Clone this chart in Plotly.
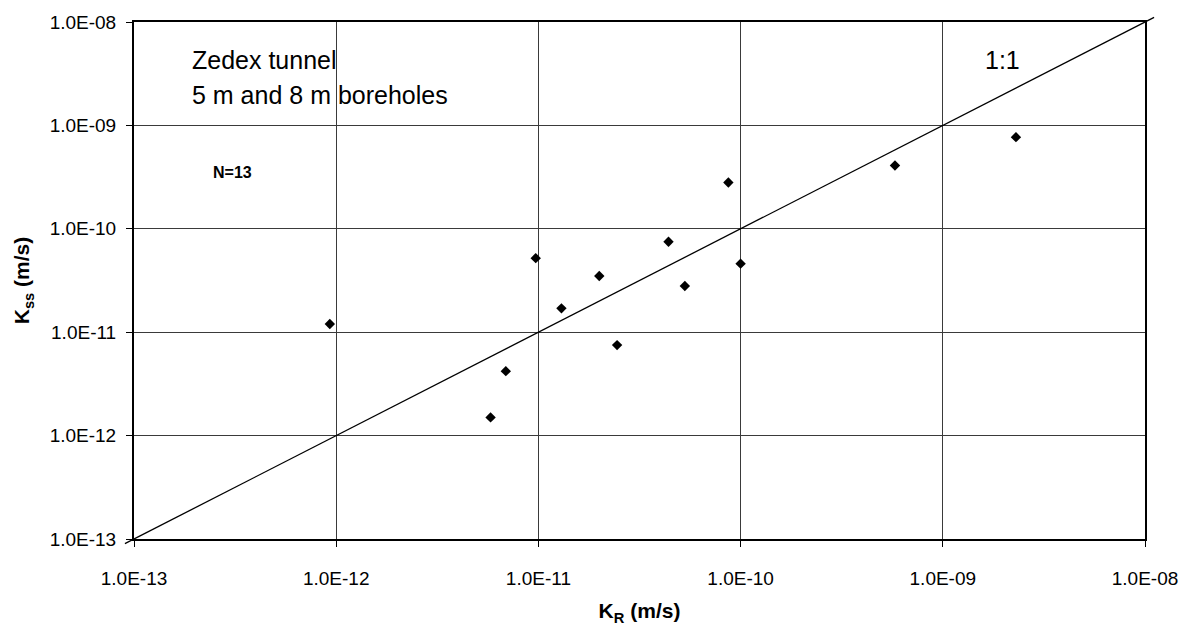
import math
import plotly.graph_objects as go

# ---- data ----
k_r = [9.3e-13, 5.8e-12, 6.9e-12, 9.7e-12, 1.3e-11, 2.0e-11, 2.45e-11,
       4.4e-11, 5.3e-11, 8.7e-11, 1.0e-10, 5.8e-10, 2.3e-09]
k_ss = [1.2e-11, 1.5e-12, 4.2e-12, 5.2e-11, 1.7e-11, 3.5e-11, 7.5e-12,
        7.5e-11, 2.8e-11, 2.8e-10, 4.6e-11, 4.1e-10, 7.7e-10]
tick_vals = [1e-13, 1e-12, 1e-11, 1e-10, 1e-9, 1e-8]
tick_text = ["1.0E-13", "1.0E-12", "1.0E-11", "1.0E-10", "1.0E-09", "1.0E-08"]
one_to_one = [1e-13, 1e-8]
title_lines = ["Zedex tunnel", "5 m and 8 m boreholes"]
n_label = "N=13"
ratio_label = "1:1"

FONT = "Liberation Sans, Arial, sans-serif"
x_range = [math.log10(tick_vals[0]), math.log10(tick_vals[-1])]
y_range = [math.log10(tick_vals[0]), math.log10(tick_vals[-1])]

fig = go.Figure()
fig.add_trace(go.Scatter(
    x=k_r, y=k_ss, mode="markers",
    marker=dict(symbol="diamond", size=8, color="black"),
    showlegend=False,
))

# 1:1 line, slightly overhanging the plot frame (as in the original)
over = 0.009
def to_paper(v, rng):
    return (math.log10(v) - rng[0]) / (rng[1] - rng[0])
fig.add_shape(type="line", xref="paper", yref="paper",
              x0=to_paper(one_to_one[0], x_range) - over,
              y0=to_paper(one_to_one[0], y_range) - over,
              x1=to_paper(one_to_one[1], x_range) + over,
              y1=to_paper(one_to_one[1], y_range) + over,
              line=dict(color="black", width=1.3), layer="above")

axis_common = dict(
    type="log", tickvals=tick_vals, ticktext=tick_text,
    ticks="outside", ticklen=6, tickwidth=1, tickcolor="black",
    showgrid=True, gridcolor="#3a3a3a", gridwidth=1,
    showline=True, linecolor="black", linewidth=2, mirror=True,
    zeroline=False, tickfont=dict(family=FONT, size=19, color="black"),
)

fig.update_layout(
    width=1192, height=631,
    margin=dict(l=134, r=47, t=18, b=92),
    paper_bgcolor="white", plot_bgcolor="white",
    font=dict(family=FONT, color="black"),
    xaxis=dict(range=x_range, ticklabelstandoff=15,
               title=dict(text="<b>K<sub>R</sub> (m/s)</b>",
                          font=dict(family=FONT, size=21), standoff=16),
               **axis_common),
    yaxis=dict(range=y_range, ticklabelstandoff=6,
               title=dict(text="<b>K<sub>ss</sub> (m/s)</b>",
                          font=dict(family=FONT, size=21), standoff=14),
               **axis_common),
)

fig.add_annotation(x=0.0554, y=0.926, xref="paper", yref="paper",
                   text=title_lines[0], showarrow=False,
                   xanchor="left", yanchor="middle",
                   font=dict(family=FONT, size=25, color="black"))
fig.add_annotation(x=0.0554, y=0.859, xref="paper", yref="paper",
                   text=title_lines[1], showarrow=False,
                   xanchor="left", yanchor="middle",
                   font=dict(family=FONT, size=25, color="black"))
fig.add_annotation(x=0.076, y=0.709, xref="paper", yref="paper",
                   text="<b>" + n_label + "</b>", showarrow=False,
                   xanchor="left", yanchor="middle",
                   font=dict(family=FONT, size=16, color="black"))
fig.add_annotation(x=0.84, y=0.926, xref="paper", yref="paper",
                   text=ratio_label, showarrow=False,
                   xanchor="left", yanchor="middle",
                   font=dict(family=FONT, size=25, color="black"))

fig.write_html("out.html")
